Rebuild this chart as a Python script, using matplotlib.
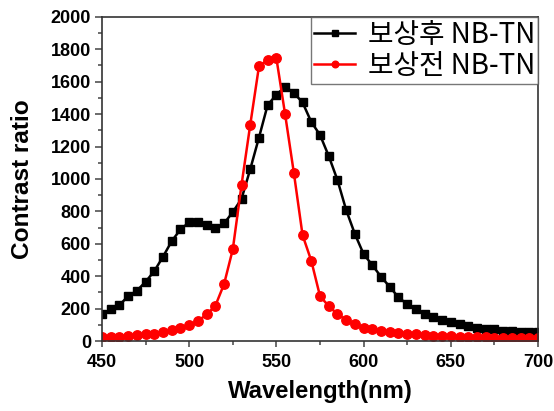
import numpy as np
import matplotlib
matplotlib.use("Agg")
import matplotlib.pyplot as plt
from matplotlib.ticker import MultipleLocator

wavelength = list(range(450, 705, 5))

after_comp = [165, 198, 222, 278, 311, 366, 432, 521, 617, 689,
              733, 737, 714, 696, 726, 796, 877, 1060, 1255, 1457,
              1519, 1570, 1531, 1472, 1352, 1272, 1142, 994, 809, 661,
              537, 469, 397, 335, 270, 228, 196, 167, 150, 130,
              115, 105, 93, 84, 74, 72, 64, 62, 56, 54, 54]

before_comp = [23, 27, 27, 29, 35, 41, 47, 56, 66, 80,
               99, 123, 165, 218, 352, 566, 963, 1334, 1694, 1735,
               1745, 1399, 1039, 654, 496, 278, 216, 167, 130, 103,
               84, 72, 62, 56, 49, 47, 41, 37, 33, 29,
               29, 27, 25, 24, 23, 22, 21, 20, 20, 19, 19]

labels = ["보상후 NB-TN", "보상전 NB-TN"]

fig = plt.figure(figsize=(5.54, 4.11), dpi=100)
ax = fig.add_axes([0.1841, 0.170, 0.7870, 0.789])

ax.plot(wavelength, after_comp, color="black", marker="s", markersize=6,
        linewidth=1.8, label=labels[0])
ax.plot(wavelength, before_comp, color="red", marker="o", markersize=6.8,
        linewidth=1.8, label=labels[1])

ax.set_xlim(450, 700)
ax.set_ylim(0, 2000)
ax.xaxis.set_major_locator(MultipleLocator(50))
ax.xaxis.set_minor_locator(MultipleLocator(25))
ax.yaxis.set_major_locator(MultipleLocator(200))
ax.yaxis.set_minor_locator(MultipleLocator(100))
ax.tick_params(which="both", direction="out", top=False, right=False, width=1.1,
               color="#444444")
ax.tick_params(axis="x", which="major", length=4, pad=5)
ax.tick_params(axis="y", which="major", length=5, pad=3)
ax.tick_params(which="minor", length=3)
for s in ax.spines.values():
    s.set_linewidth(1.2)
    s.set_color("#333333")

for lab in ax.get_xticklabels() + ax.get_yticklabels():
    lab.set_fontfamily("Liberation Sans")
    lab.set_fontweight("bold")
    lab.set_fontsize(13)

ax.set_xlabel("Wavelength(nm)", fontfamily="Liberation Sans", fontweight="bold",
              fontsize=17.2, labelpad=7)
ax.set_ylabel("Contrast ratio", fontfamily="Liberation Sans", fontweight="bold",
              fontsize=17.6, labelpad=12)

leg = ax.legend(loc="upper right", borderaxespad=0, fancybox=False,
                prop={"family": ["Noto Sans CJK KR", "DejaVu Sans"], "size": 20,
                      "weight": "light"},
                handlelength=1.5, handletextpad=0.45, borderpad=0.1,
                labelspacing=0.05, edgecolor="#555555", markerscale=0.7)
leg.get_frame().set_linewidth(1.0)

fig.savefig("out.png", dpi=100)
